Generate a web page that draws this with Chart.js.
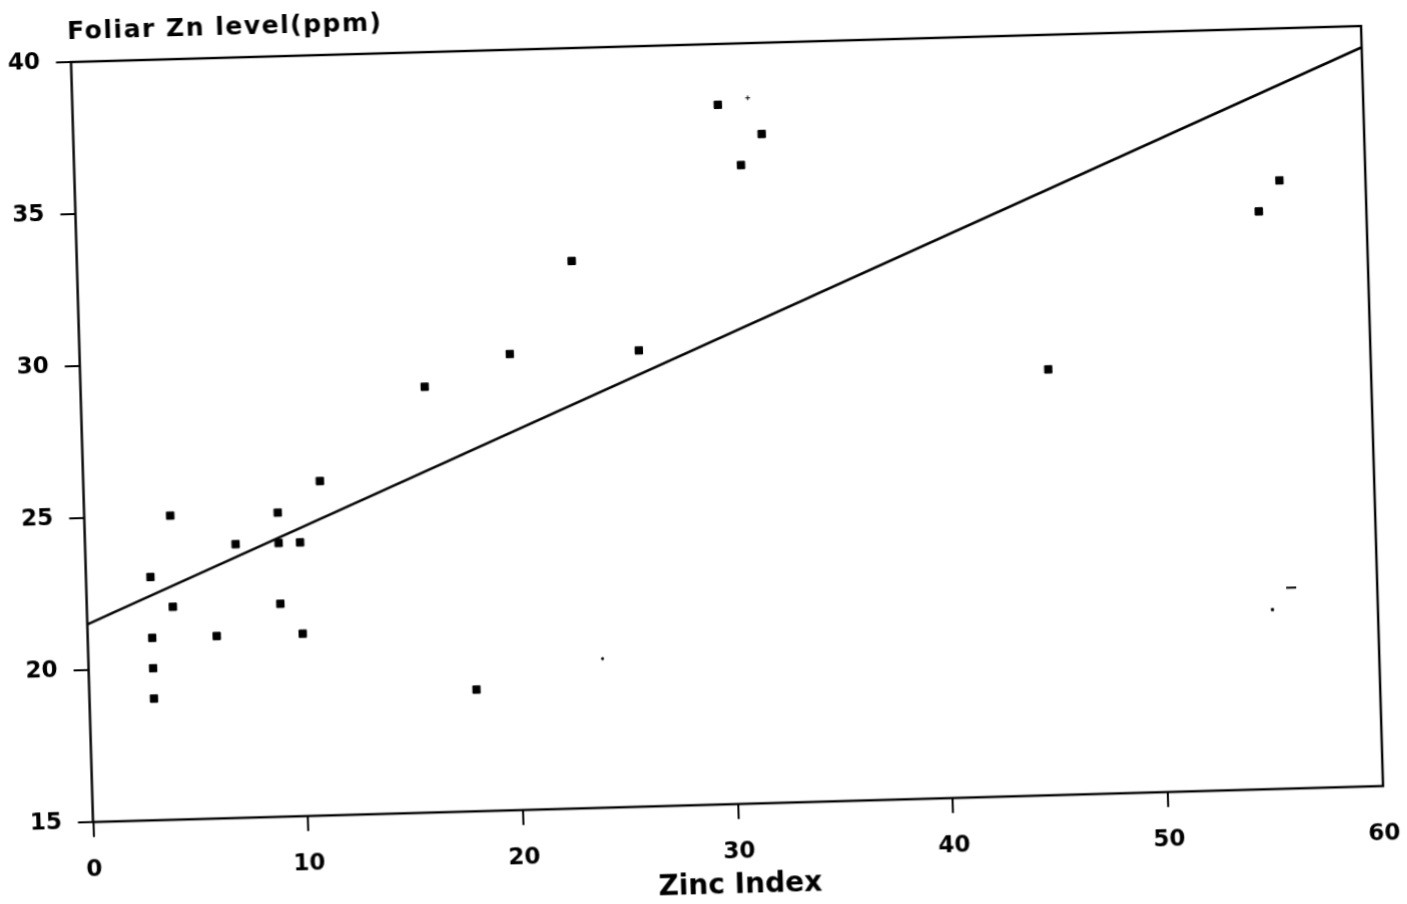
<!DOCTYPE html>
<html>
<head>
<meta charset="utf-8">
<title>Foliar Zn level vs Zinc Index</title>
<script src="https://cdn.jsdelivr.net/npm/chart.js@4/dist/chart.umd.min.js"></script>
<style>
  html, body { margin: 0; padding: 0; background: #fff; }
  #wrap { position: absolute; left: 0; top: 0; width: 1407px; height: 904px; overflow: hidden; background: #fff; }
  #chart { position: absolute; left: 0; top: 0; }
</style>
</head>
<body>
<div id="wrap"><canvas id="chart" width="1407" height="904"></canvas></div>
<script>
// Observed plots: zinc index vs. foliar Zn (ppm)
const zincIndex = [3, 3, 3, 3, 4, 4, 6, 7, 9, 9, 9, 10, 10, 11, 16, 18, 20, 23, 26, 30, 31, 32, 45, 55, 56];
const foliarZn  = [23, 21, 20, 19, 25, 22, 21, 24, 25, 24, 22, 24, 21, 26, 29, 19, 30, 33, 30, 38, 36, 37, 29, 34, 35];

// Faint, partly printed marks
const faintX = [23.9, 31.4, 55.1, 56.0];
const faintY = [19.9, 38.2, 20.9, 21.6];

// Fitted regression line end points
const fitX = [0, 60];
const fitY = [21.5, 39.3];

// Axis ticks
const xTickValues = [0, 10, 20, 30, 40, 50, 60];
const yTickValues = [15, 20, 25, 30, 35, 40];

const yTitle = 'Foliar Zn level(ppm)';
const xTitle = 'Zinc Index';

const FONT = '"DejaVu Sans", "Liberation Sans", sans-serif';
const toXY = (xs, ys) => xs.map((x, i) => ({ x: x, y: ys[i] }));

// Box frame around the plot area plus the y-axis caption at its top-left corner
const frameAndCaption = {
  id: 'frameAndCaption',
  beforeDatasetsDraw(chart) {
    const { ctx, chartArea: a } = chart;
    ctx.save();
    ctx.strokeStyle = '#000';
    ctx.lineWidth = 2.4;
    ctx.strokeRect(a.left, a.top, a.right - a.left, a.bottom - a.top);
    ctx.restore();
  },
  afterDraw(chart) {
    const { ctx, chartArea: a } = chart;
    ctx.save();
    ctx.fillStyle = '#000';
    ctx.font = 'bold 25px ' + FONT;
    ctx.letterSpacing = '1.5px';
    ctx.textAlign = 'left';
    ctx.textBaseline = 'alphabetic';
    ctx.fillText(yTitle, a.left - 3, a.top - 23);
    ctx.restore();
  }
};

const tickColor = (hidden) => (c) => (c.tick && c.tick.value === hidden ? 'rgba(0,0,0,0)' : '#000');

const chart = new Chart(document.getElementById('chart'), {
  type: 'scatter',
  data: {
    datasets: [
      {
        label: 'fit',
        data: toXY(fitX, fitY),
        showLine: true,
        borderColor: '#000',
        borderWidth: 2.6,
        pointRadius: 0,
        fill: false
      },
      {
        label: 'plots',
        data: toXY(zincIndex, foliarZn),
        pointStyle: 'rect',
        pointRadius: 5.2,
        pointBackgroundColor: '#000',
        pointBorderColor: '#000',
        pointBorderWidth: 1
      },
      {
        label: 'faint',
        data: toXY(faintX, faintY),
        pointStyle: ['circle', 'cross', 'rect', 'line'],
        pointRadius: [1.3, 2.4, 1.8, 5],
        pointBackgroundColor: '#000',
        pointBorderColor: '#000',
        pointBorderWidth: [0.5, 1, 0.5, 2]
      }
    ]
  },
  options: {
    responsive: false,
    devicePixelRatio: 1,
    animation: false,
    events: [],
    layout: { padding: { left: 13.5, right: 32.5, top: 44, bottom: 0 } },
    plugins: {
      legend: { display: false },
      title: { display: false },
      tooltip: { enabled: false }
    },
    scales: {
      x: {
        type: 'linear',
        min: 0,
        max: 60,
        afterBuildTicks: (s) => { s.ticks = xTickValues.map(v => ({ value: v })); },
        afterFit: (s) => { s.height = 100; },
        border: { display: false },
        grid: {
          drawOnChartArea: false,
          drawTicks: true,
          tickLength: 15,
          lineWidth: 2,
          color: tickColor(60)
        },
        ticks: {
          color: '#000',
          padding: 19,
          maxRotation: 0,
          font: { family: FONT, size: 23, weight: 'bold' }
        },
        title: {
          display: true,
          text: xTitle,
          color: '#000',
          padding: { top: 0, bottom: 1 },
          font: { family: FONT, size: 28, weight: 'bold' }
        }
      },
      y: {
        type: 'linear',
        min: 15,
        max: 40,
        afterBuildTicks: (s) => { s.ticks = yTickValues.map(v => ({ value: v })); },
        afterFit: (s) => { s.width = 70; },
        border: { display: false },
        grid: {
          drawOnChartArea: false,
          drawTicks: true,
          tickLength: 15,
          lineWidth: 2,
          color: '#000'
        },
        ticks: {
          color: '#000',
          padding: 16,
          font: { family: FONT, size: 23, weight: 'bold' }
        }
      }
    }
  },
  plugins: [frameAndCaption]
});

// The printed sheet sits slightly turned on the page: map the plot frame's
// corners onto where they lie on the sheet.
(function tiltSheet() {
  const a = chart.chartArea;
  const W = a.right - a.left, H = a.bottom - a.top;
  const TL = [71, 62], TR = [1361, 26], BL = [93, 822];
  const m11 = (TR[0] - TL[0]) / W, m12 = (TR[1] - TL[1]) / W;
  const m21 = (BL[0] - TL[0]) / H, m22 = (BL[1] - TL[1]) / H;
  const e = TL[0] - m11 * a.left - m21 * a.top;
  const f = TL[1] - m12 * a.left - m22 * a.top;
  const cv = document.getElementById('chart');
  cv.style.transformOrigin = '0 0';
  cv.style.transform = `matrix(${m11}, ${m12}, ${m21}, ${m22}, ${e}, ${f})`;
})();
</script>
</body>
</html>
